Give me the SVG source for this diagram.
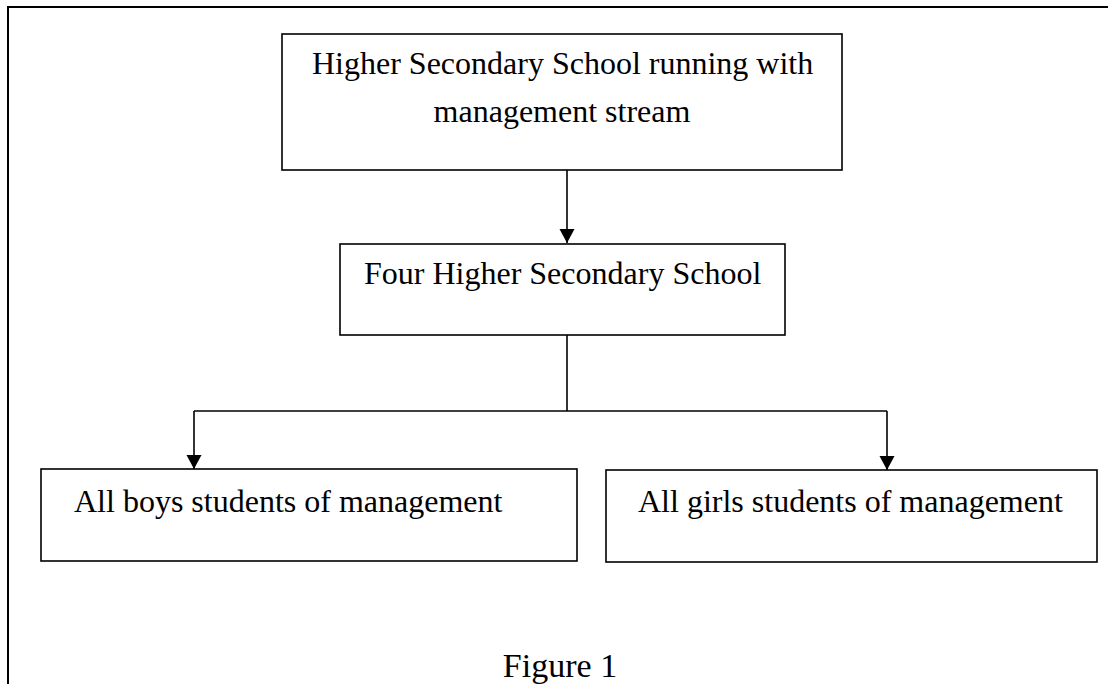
<svg xmlns="http://www.w3.org/2000/svg" width="1108" height="684" viewBox="0 0 1108 684">
<style>
.box{fill:#fff;stroke:#000;stroke-width:1.6}
.t{font-family:"Liberation Serif","Times New Roman",serif;font-size:32px;fill:#000}
.m{text-anchor:middle}
.c{fill:none;stroke:#000;stroke-width:1.6}
</style>
<defs>
<marker id="ah" markerUnits="userSpaceOnUse" markerWidth="16" markerHeight="16" viewBox="0 0 16 16" refX="14" refY="8" orient="auto">
<path d="M0,0.5 L14,8 L0,15.5 Z" fill="#000"/>
</marker>
</defs>
<rect width="1108" height="684" fill="#fff"/>
<path d="M8,684 L8,7 L1108,7" fill="none" stroke="#000" stroke-width="2"/>
<g id="connectors">
<path class="c" d="M567,170 L567,243" marker-end="url(#ah)"/>
<path class="c" d="M567,335 L567,411"/>
<path class="c" d="M194,411 L887,411"/>
<path class="c" d="M194,411 L194,469" marker-end="url(#ah)"/>
<path class="c" d="M887,411 L887,470" marker-end="url(#ah)"/>
</g>
<g id="n1">
<rect class="box" x="282" y="34" width="560" height="136"/>
<text class="t" x="312" y="74">Higher Secondary School running with</text>
<text class="t m" x="562" y="122">management stream</text>
</g>
<g id="n2">
<rect class="box" x="340" y="244" width="445" height="91"/>
<text class="t" x="364" y="284">Four Higher Secondary School</text>
</g>
<g id="n3">
<rect class="box" x="41" y="469" width="536" height="92"/>
<text class="t" x="74" y="512">All boys students of management</text>
</g>
<g id="n4">
<rect class="box" x="606" y="470" width="491" height="92"/>
<text class="t" x="638" y="512">All girls students of management</text>
</g>
<text class="t m" x="560" y="677" style="font-size:34px">Figure 1</text>
</svg>
